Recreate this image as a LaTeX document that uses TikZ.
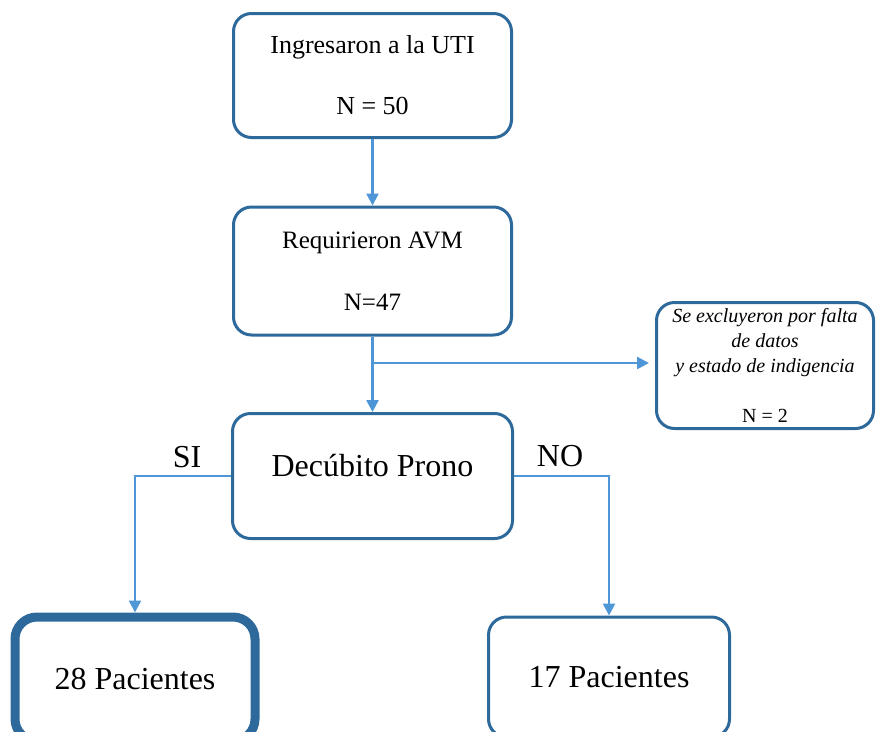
\documentclass[tikz,border=0pt]{standalone}
\usepackage{fontspec}
\setmainfont{Liberation Serif}
\usepackage{xcolor}
\usetikzlibrary{arrows.meta,positioning}

\definecolor{boxblue}{RGB}{45,105,155}
\definecolor{lineblue}{RGB}{78,150,214}

\begin{document}
\begin{tikzpicture}[x=1pt,y=-1pt,
    box/.style={draw=boxblue, line width=3pt, rounded corners=18pt, align=center, inner sep=0pt},
    boxthick/.style={box, line width=9pt, rounded corners=22pt},
    arr/.style={draw=lineblue, line width=2.5pt, -{Triangle[width=12pt,length=12pt]}}]
    \useasboundingbox (0,0) rectangle (877,731);

    \node[box, minimum width=278pt, minimum height=124pt, font=\fontsize{26}{30}\selectfont] (uti) at (372.5,75.5)
        {Ingresaron a la UTI\\[31pt]N = 50};
    \node[box, minimum width=278pt, minimum height=128pt, font=\fontsize{25}{31}\selectfont] (avm) at (372.5,271)
        {Requirieron AVM\\[31pt]N=47};
    \node[box, minimum width=280pt, minimum height=125pt, text depth=22pt, font=\fontsize{32}{36}\selectfont] (prono) at (372.5,476)
        {Decúbito Prono};
    \node[box, minimum width=217pt, minimum height=126pt, font=\fontsize{20}{25}\selectfont] (excl) at (765,365.5)
        {\itshape Se excluyeron por falta\\ \itshape de datos\\ \itshape y estado de indigencia\\[25pt]N = 2};
    \node[boxthick, minimum width=240pt, minimum height=124pt, font=\fontsize{32}{36}\selectfont] (pac28) at (135,679)
        {28 Pacientes};
    \node[box, minimum width=241pt, minimum height=120pt, font=\fontsize{32}{36}\selectfont] (pac17) at (609,677)
        {17 Pacientes};

    \coordinate (split) at (372.5,363);

    \draw[arr] (uti) -- (avm);
    \draw[draw=lineblue, line width=2.5pt] (avm.south) -- (split);
    \draw[arr] (split) -- (prono.north);
    \draw[arr, shorten >=6pt] (split) -- (split -| excl.west);
    \draw[arr] (prono.west) -| (pac28.north);
    \draw[arr] (prono.east) -| (pac17.north);

    \node[font=\fontsize{32}{36}\selectfont] (si) at (187,457) {SI};
    \node[font=\fontsize{32}{36}\selectfont] (no) at (560,456) {NO};
\end{tikzpicture}
\end{document}
